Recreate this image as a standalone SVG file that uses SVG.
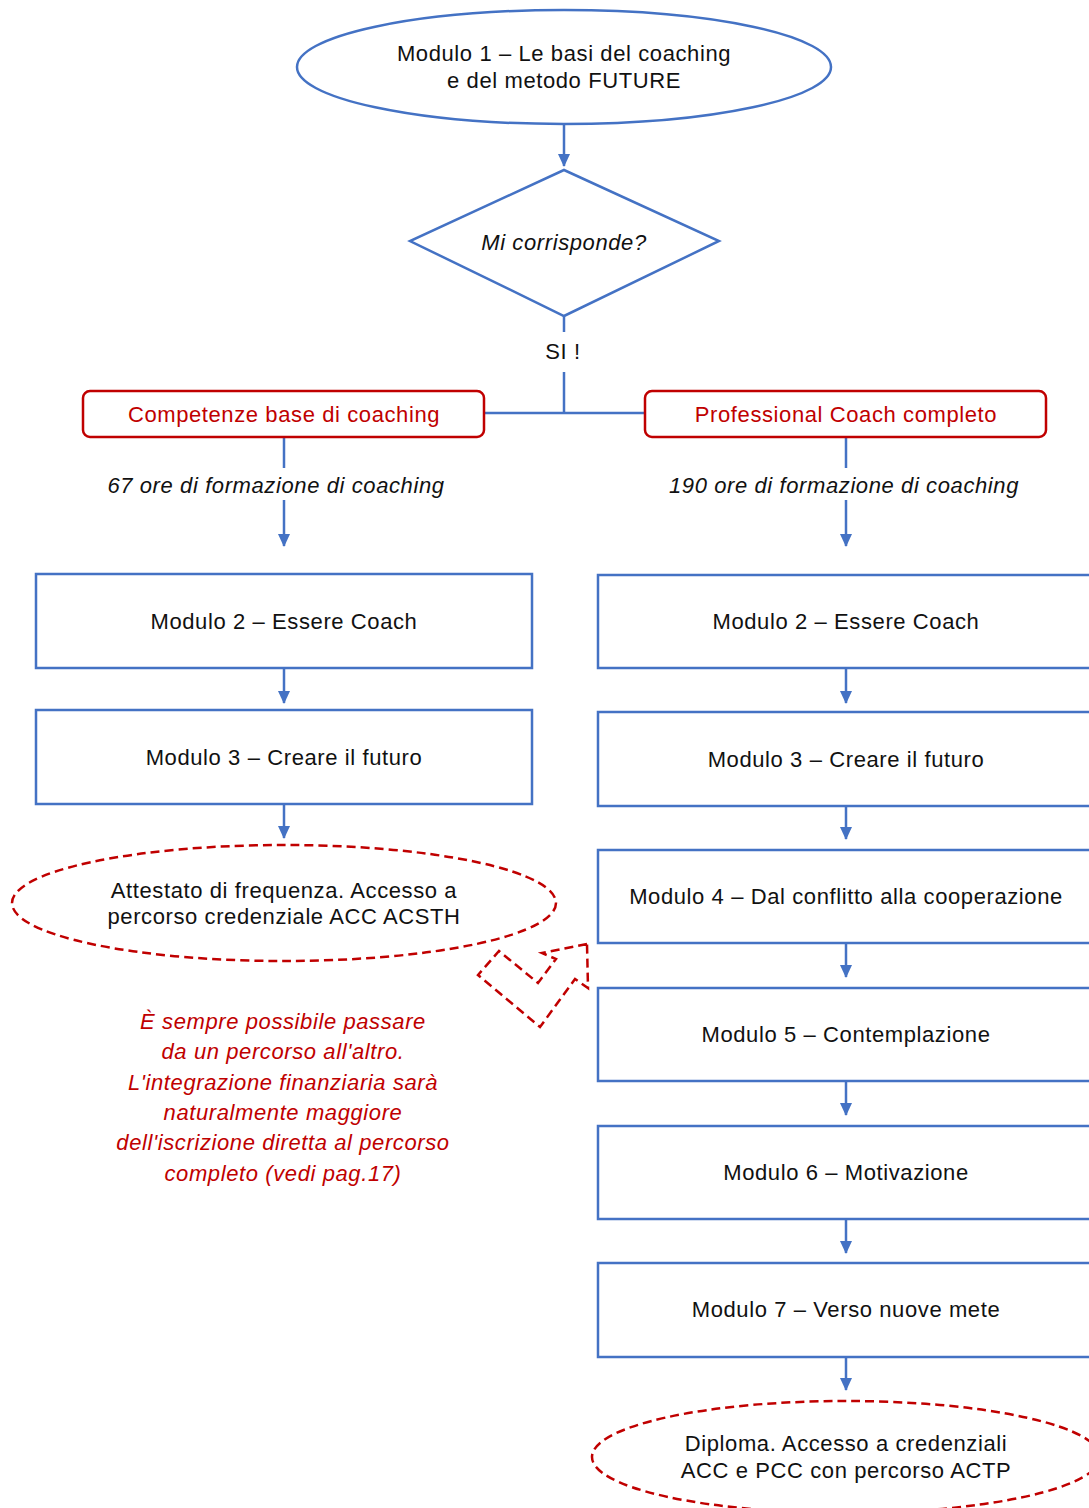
<svg xmlns="http://www.w3.org/2000/svg" width="1089" height="1508" viewBox="0 0 1089 1508">
<defs>
<style>
.b{fill:#fff;stroke:#4472C4;stroke-width:2.5}
.r{fill:#fff;stroke:#C00000;stroke-width:2.5}
.rd{fill:none;stroke:#C00000;stroke-width:2.5;stroke-dasharray:9 5}
.ln{fill:none;stroke:#4472C4;stroke-width:2.5}
.t{font-family:"Liberation Sans",Arial,sans-serif;font-size:22px;fill:#111;text-anchor:middle;letter-spacing:0.6px}
.i{font-style:italic}
.red{fill:#C00000}
</style>
<marker id="ah" markerWidth="14" markerHeight="14" refX="12" refY="7" orient="auto" markerUnits="userSpaceOnUse">
<path d="M0,1 L13,7 L0,13 z" fill="#4472C4"/>
</marker>
</defs>
<rect width="1089" height="1508" fill="#fff"/>

<g id="connectors">
<line class="ln" x1="564" y1="124" x2="564" y2="166" marker-end="url(#ah)"/>
<line class="ln" x1="564" y1="316" x2="564" y2="332"/>
<line class="ln" x1="564" y1="372" x2="564" y2="413"/>
<line class="ln" x1="485" y1="413" x2="645" y2="413"/>
<line class="ln" x1="284" y1="437" x2="284" y2="468"/>
<line class="ln" x1="284" y1="500" x2="284" y2="546" marker-end="url(#ah)"/>
<line class="ln" x1="846" y1="437" x2="846" y2="468"/>
<line class="ln" x1="846" y1="500" x2="846" y2="546" marker-end="url(#ah)"/>
<line class="ln" x1="284" y1="668" x2="284" y2="703" marker-end="url(#ah)"/>
<line class="ln" x1="284" y1="804" x2="284" y2="838" marker-end="url(#ah)"/>
<line class="ln" x1="846" y1="668" x2="846" y2="703" marker-end="url(#ah)"/>
<line class="ln" x1="846" y1="806" x2="846" y2="839" marker-end="url(#ah)"/>
<line class="ln" x1="846" y1="943" x2="846" y2="977" marker-end="url(#ah)"/>
<line class="ln" x1="846" y1="1081" x2="846" y2="1115" marker-end="url(#ah)"/>
<line class="ln" x1="846" y1="1219" x2="846" y2="1253" marker-end="url(#ah)"/>
<line class="ln" x1="846" y1="1357" x2="846" y2="1390" marker-end="url(#ah)"/>
<text class="t" x="563" y="359">SI !</text>
<text class="t i" x="276" y="493">67 ore di formazione di coaching</text>
<text class="t i" x="844" y="493">190 ore di formazione di coaching</text>
</g>

<g id="m1">
<ellipse class="b" cx="564" cy="67" rx="267" ry="57"/>
<text class="t" x="564" y="61">Modulo 1 – Le basi del coaching</text>
<text class="t" x="564" y="88">e del metodo FUTURE</text>
</g>

<g id="decision">
<polygon class="b" points="564,170 719,241 564,316 410,241"/>
<text class="t i" x="564" y="250">Mi corrisponde?</text>
</g>

<g id="base">
<rect class="r" x="83" y="391" width="401" height="46" rx="7"/>
<text class="t red" x="284" y="422">Competenze base di coaching</text>
</g>

<g id="pro">
<rect class="r" x="645" y="391" width="401" height="46" rx="7"/>
<text class="t red" x="846" y="422">Professional Coach completo</text>
</g>

<g id="l2">
<rect class="b" x="36" y="574" width="496" height="94"/>
<text class="t" x="284" y="629">Modulo 2 – Essere Coach</text>
</g>
<g id="l3">
<rect class="b" x="36" y="710" width="496" height="94"/>
<text class="t" x="284" y="765">Modulo 3 – Creare il futuro</text>
</g>
<g id="lend">
<ellipse class="rd" cx="284" cy="903" rx="272" ry="58"/>
<text class="t" x="284" y="898">Attestato di frequenza. Accesso a</text>
<text class="t" x="284" y="924">percorso credenziale ACC ACSTH</text>
</g>

<g id="r2">
<rect class="b" x="598" y="575" width="496" height="93"/>
<text class="t" x="846" y="629">Modulo 2 – Essere Coach</text>
</g>
<g id="r3">
<rect class="b" x="598" y="712" width="496" height="94"/>
<text class="t" x="846" y="767">Modulo 3 – Creare il futuro</text>
</g>
<g id="r4">
<rect class="b" x="598" y="850" width="496" height="93"/>
<text class="t" x="846" y="904">Modulo 4 – Dal conflitto alla cooperazione</text>
</g>
<g id="r5">
<rect class="b" x="598" y="988" width="496" height="93"/>
<text class="t" x="846" y="1042">Modulo 5 – Contemplazione</text>
</g>
<g id="r6">
<rect class="b" x="598" y="1126" width="496" height="93"/>
<text class="t" x="846" y="1180">Modulo 6 – Motivazione</text>
</g>
<g id="r7">
<rect class="b" x="598" y="1263" width="496" height="94"/>
<text class="t" x="846" y="1317">Modulo 7 – Verso nuove mete</text>
</g>
<g id="rend">
<ellipse class="rd" cx="846" cy="1457" rx="254" ry="56"/>
<text class="t" x="846" y="1451">Diploma. Accesso a credenziali</text>
<text class="t" x="846" y="1478">ACC e PCC con percorso ACTP</text>
</g>

<g id="switch">
<polygon class="rd" points="587,944 542,953 556,959 538,983 499,951 478,975 540,1027 575,979 588,988"/>
</g>

<g id="note">
<text class="t i red" x="283" y="1029">È sempre possibile passare</text>
<text class="t i red" x="283" y="1059">da un percorso all'altro.</text>
<text class="t i red" x="283" y="1090">L'integrazione finanziaria sarà</text>
<text class="t i red" x="283" y="1120">naturalmente maggiore</text>
<text class="t i red" x="283" y="1150">dell'iscrizione diretta al percorso</text>
<text class="t i red" x="283" y="1181">completo (vedi pag.17)</text>
</g>
</svg>
